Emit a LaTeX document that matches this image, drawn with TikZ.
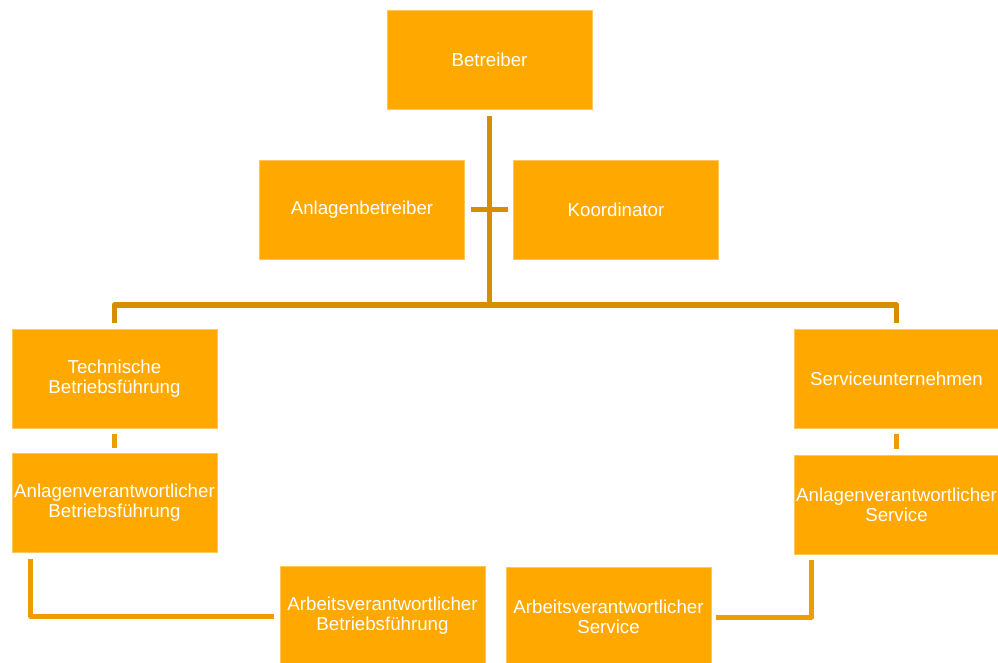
\documentclass[tikz,border=0pt]{standalone}
\usepackage{fontspec}
\setmainfont{Liberation Sans}
\usetikzlibrary{calc}
\definecolor{boxorange}{HTML}{FFA800}
\definecolor{lineA}{HTML}{D68D00}
\definecolor{lineB}{HTML}{EC9D00}
\begin{document}
\begin{tikzpicture}[x=1pt,y=-1pt,
  box/.style={fill=boxorange, draw=boxorange!65!white, line width=0.5pt,
    minimum width=205pt, minimum height=99pt, inner sep=0pt, align=center,
    text=white, font=\fontsize{18.7}{19.8}\selectfont},
  conA/.style={draw=lineA, line width=5.5pt, line join=round},
  conB/.style={draw=lineB, line width=5pt, line join=round}]
\useasboundingbox (0,0) rectangle (998,662);
\clip (0,0) rectangle (998,662);

\node[box] (betreiber) at (489.5,59.5) {Betreiber};
\node[box] (anlagen) at (362,209.5) {Anlagenbetreiber};
\node[box] (koord) at (616,209.5) {Koordinator};
\node[box] (techn) at (114.5,378.5) {Technische\\Betriebsführung};
\node[box] (anlBF) at (114.5,503) {Anlagenverantwortlicher\\Betriebsführung};
\node[box] (arbBF) at (382.5,616) {Arbeitsverantwortlicher\\Betriebsführung};
\node[box] (arbS) at (608.5,617) {Arbeitsverantwortlicher\\Service};
\node[box] (service) at (896.5,378.5) {Serviceunternehmen};
\node[box] (anlS) at (896.5,505) {Anlagenverantwortlicher\\Service};

\coordinate (busM) at (489.5,305);
\coordinate (busL) at (114.5,305);
\coordinate (busR) at (896.5,305);

\draw[conA] ($(betreiber.south)+(0,7)$) -- (busM);
\draw[conA] ($(anlagen.east)+(6,0)$) -- ($(koord.west)+(-5,0)$);
\draw[conA] ($(techn.north)+(0,-6)$) -- (busL) -- (busR) -- ($(service.north)+(0,-6)$);

\draw[conB] ($(techn.south)+(0,6)$) -- ($(anlBF.north)+(0,-5)$);
\draw[conB] ($(service.south)+(0,6)$) -- ($(anlS.north)+(0,-6)$);

\draw[conB] ($(anlBF.south west)+(19,6)$) |- ($(arbBF.west)+(-6,0)$);
\draw[conB] ($(arbS.east)+(5,0)$) -| ($(anlS.south west)+(18,5)$);
\end{tikzpicture}
\end{document}
